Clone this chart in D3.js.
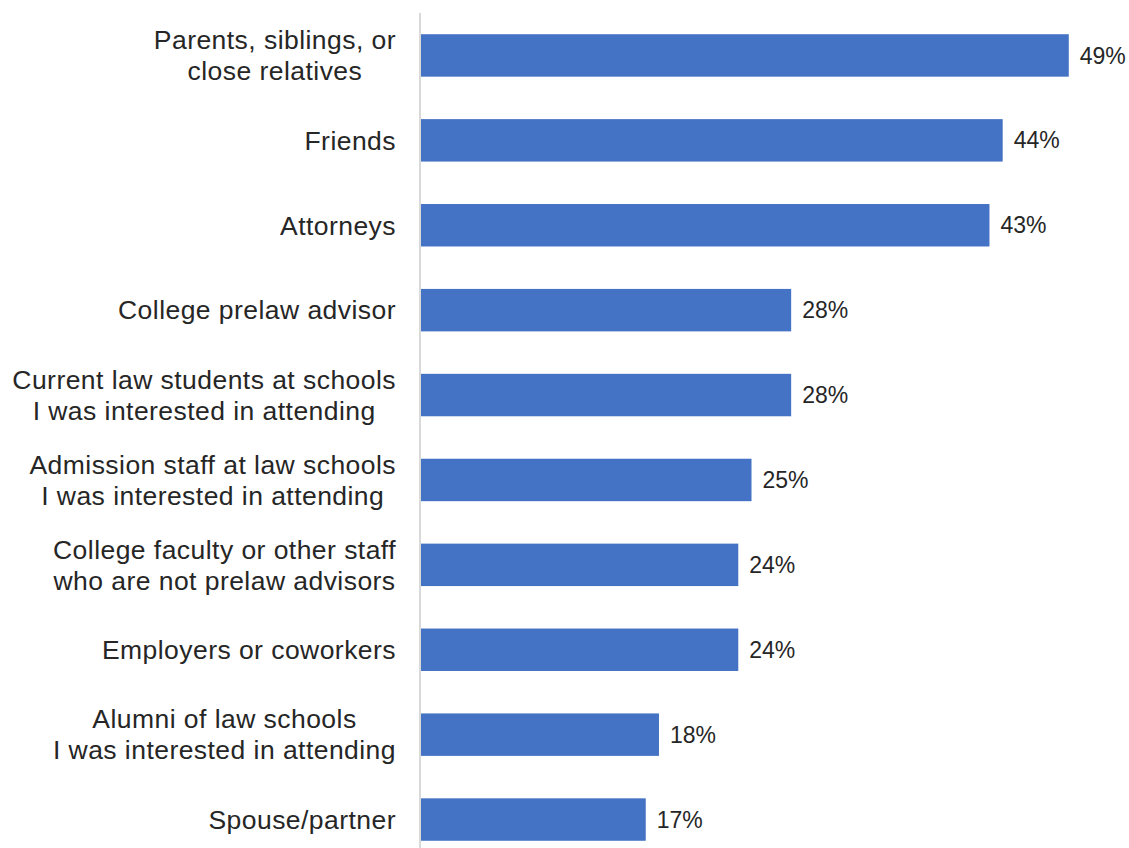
<!DOCTYPE html>
<html>
<head>
<meta charset="utf-8">
<script src="https://cdn.jsdelivr.net/npm/d3@7"></script>
<style>
  html, body { margin: 0; padding: 0; background: #fff; }
  svg { display: block; }
</style>
</head>
<body>
<svg id="chart" width="1129" height="848"></svg>
<script>
// Sources of advice (share of respondents)
const categories = [
  ["Parents, siblings, or", "close relatives"],
  ["Friends"],
  ["Attorneys"],
  ["College prelaw advisor"],
  ["Current law students at schools", "I was interested in attending"],
  ["Admission staff at law schools", "I was interested in attending"],
  ["College faculty or other staff", "who are not prelaw advisors"],
  ["Employers or coworkers"],
  ["Alumni of law schools", "I was interested in attending"],
  ["Spouse/partner"]
];
const values = [49, 44, 43, 28, 28, 25, 24, 24, 18, 17];
const valueLabels = ["49%", "44%", "43%", "28%", "28%", "25%", "24%", "24%", "18%", "17%"];

const svg = d3.select("#chart");
const font = "'Liberation Sans', Arial, sans-serif";
const textColor = "#262626";

const x = d3.scaleLinear().domain([0, 50]).range([421, 421 + 50 * 13.22]);
const y = d3.scaleBand()
  .domain(d3.range(categories.length))
  .range([13, 862])
  .paddingInner(0.5)
  .paddingOuter(0.25);

// bars
svg.append("g").selectAll("rect")
  .data(values)
  .join("rect")
  .attr("x", x(0))
  .attr("y", (d, i) => y(i))
  .attr("width", d => x(d) - x(0))
  .attr("height", y.bandwidth())
  .attr("fill", "#4472c4");

// vertical category axis
svg.append("line")
  .attr("x1", 420).attr("x2", 420)
  .attr("y1", 13).attr("y2", 848)
  .attr("stroke", "#d9d9d9")
  .attr("stroke-width", 2);

// category labels: each block right-aligned to the axis, lines centred within the block
const lineH = 31;
const labelRight = 396;
const labels = svg.append("g")
  .attr("font-family", font)
  .attr("font-size", 26.5)
  .attr("letter-spacing", "0.45px")
  .attr("fill", textColor);

categories.forEach((lines, i) => {
  const cy = y(i) + y.bandwidth() / 2;
  const t = labels.append("text")
    .attr("y", cy - (lines.length - 1) * lineH / 2);
  const spans = lines.map((ln, j) =>
    t.append("tspan")
      .attr("dy", j === 0 ? "0.35em" : lineH)
      .text(ln));
  const maxW = d3.max(spans, s => s.node().getComputedTextLength());
  const cx = labelRight - maxW / 2;
  spans.forEach(s => s.attr("x", cx).attr("text-anchor", "middle"));
});

// value labels
svg.append("g")
  .attr("font-family", font)
  .attr("font-size", 23)
  .attr("fill", textColor)
  .selectAll("text")
  .data(values)
  .join("text")
  .attr("x", d => x(d) + 11)
  .attr("y", (d, i) => y(i) + y.bandwidth() / 2)
  .attr("dy", "0.35em")
  .text((d, i) => valueLabels[i]);
</script>
</body>
</html>
